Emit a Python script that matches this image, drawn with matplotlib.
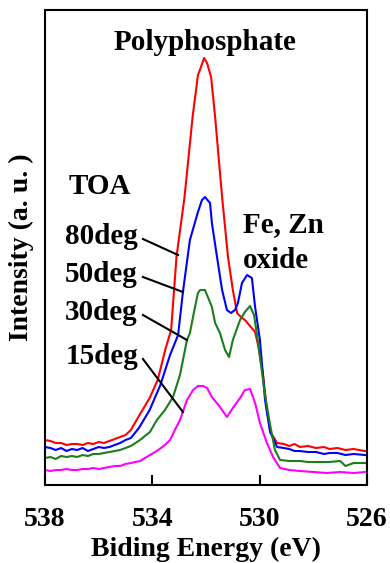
import matplotlib
matplotlib.use("Agg")
import matplotlib.pyplot as plt

plt.rcParams['font.family'] = ['Liberation Serif', 'DejaVu Serif']
plt.rcParams['font.weight'] = 'bold'

# Binding energy (eV) / intensity (a.u.)
red_E = [538.0, 537.8, 537.6, 537.4, 537.2, 537.0, 536.8, 536.6, 536.4, 536.2, 536.0, 535.8, 535.6,
         535.4, 535.2, 535.0, 534.8, 534.5, 534.1, 533.8, 533.5, 533.3, 533.1, 532.8, 532.5, 532.3,
         532.2, 532.07, 531.96, 531.81, 531.66, 531.4, 531.18, 531.0, 530.84, 530.7, 530.55, 530.36,
         530.17, 530.06, 529.88, 529.73, 529.6, 529.35, 529.1, 528.9, 528.7, 528.5, 528.2, 527.9,
         527.6, 527.4, 527.1, 526.8, 526.5, 526.3, 526.07]
red_I = [45, 44, 42, 42, 40, 41, 41, 40, 42, 41, 43, 42, 44,
         46, 48, 50, 55, 69, 87, 105, 137, 155, 228, 288, 368, 410,
         417, 427, 422, 408, 368, 288, 228, 195, 172, 168, 165, 159,
         153, 140, 112, 75, 53, 42, 41, 39, 41, 38, 39, 37,
         38, 36, 37, 35, 36, 35, 34]

blue_E = [538.0, 537.8, 537.6, 537.4, 537.2, 537.0, 536.8, 536.6, 536.4, 536.2, 536.0, 535.8, 535.6,
          535.4, 535.2, 535.0, 534.8, 534.5, 534.1, 533.7, 533.34, 533.04, 532.86, 532.6, 532.3,
          532.15, 532.04, 531.85, 531.78, 531.59, 531.4, 531.22, 531.07, 530.92, 530.81, 530.66,
          530.47, 530.29, 530.17, 529.99, 529.8, 529.61, 529.35, 529.1, 528.9, 528.7, 528.5, 528.2,
          527.9, 527.6, 527.4, 527.1, 526.8, 526.5, 526.07]
blue_I = [38, 37, 35, 37, 34, 36, 35, 37, 34, 36, 38, 37, 38,
          40, 42, 45, 47, 57, 75, 100, 130, 150, 193, 245, 273,
          285, 288, 282, 262, 228, 195, 175, 172, 175, 182, 202,
          210, 207, 178, 145, 85, 53, 38, 37, 36, 34, 34, 33,
          33, 31, 32, 32, 30, 31, 30]

green_E = [538.0, 537.8, 537.6, 537.4, 537.2, 537.0, 536.8, 536.6, 536.4, 536.2, 536.0, 535.8, 535.6,
           535.4, 535.2, 535.0, 534.8, 534.46, 534.09, 533.83, 533.53, 533.23, 532.97, 532.71, 532.6,
           532.41, 532.3, 532.22, 532.04, 531.93, 531.78, 531.66, 531.48, 531.29, 531.14, 531.0,
           530.73, 530.55, 530.36, 530.21, 530.1, 529.99, 529.8, 529.61, 529.43, 529.24, 528.9,
           528.5, 528.2, 527.8, 527.4, 527.0, 526.8, 526.5, 526.07]
green_I = [27, 28, 26, 29, 28, 29, 28, 30, 29, 31, 31, 32, 33,
           34, 35, 37, 39, 45, 53, 65, 75, 88, 110, 145, 152,
           178, 192, 195, 195, 188, 178, 162, 152, 135, 128, 145,
           165, 173, 179, 170, 150, 128, 90, 60, 35, 25, 24,
           24, 23, 23, 23, 24, 19, 22, 22]

mag_E = [538.0, 537.8, 537.6, 537.4, 537.2, 537.0, 536.8, 536.6, 536.4, 536.2, 536.0, 535.8, 535.6,
         535.4, 535.2, 535.0, 534.8, 534.46, 534.09, 533.83, 533.53, 533.34, 533.16, 532.97, 532.71,
         532.48, 532.3, 532.11, 531.96, 531.78, 531.48, 531.22, 531.0, 530.73, 530.55, 530.36,
         530.17, 529.99, 529.73, 529.5, 529.24, 528.9, 528.5, 528.0, 527.5, 527.0, 526.5, 526.07]
mag_I = [15, 14, 15, 15, 16, 15, 15, 16, 16, 17, 16, 17, 18,
         19, 19, 21, 22, 24, 30, 34, 40, 45, 55, 65, 85,
         95, 99, 99, 97, 88, 78, 68, 77, 87, 95, 96,
         82, 62, 42, 28, 17, 15, 14, 13, 12, 13, 12, 13]

series = [(red_E, red_I, '#ff0000'), (blue_E, blue_I, '#0000ff'),
          (green_E, green_I, '#1a7f1a'), (mag_E, mag_I, '#ff00ff')]

x_ticks = [538, 534, 530, 526]
toa_labels = ['80deg', '50deg', '30deg', '15deg']
toa_label_I = [248, 210, 172, 128]
leader_end = [(533.04, 230), (532.86, 193), (532.71, 145), (532.86, 73)]

fig = plt.figure(figsize=(3.9, 5.63), dpi=100)
ax = fig.add_axes([45/390, 78/563, 322/390, 475/563])

for E, I, c in series:
    ax.plot(E, I, color=c, lw=1.5)

ax.set_xlim(538, 526)
ax.set_ylim(0, 475)
ax.set_xticks(x_ticks)
ax.set_xticklabels([str(t) for t in x_ticks], fontsize=20, fontweight='bold')
ax.tick_params(axis='x', direction='in', length=7, width=1.5, pad=16)
ax.set_yticks([])
for s in ax.spines.values():
    s.set_linewidth(1.5)

ax.set_xlabel('Biding Energy (eV)', fontsize=20, fontweight='bold', labelpad=3)
ax.set_ylabel('Intensity (a. u. )', fontsize=20, fontweight='bold', labelpad=8)

ax.text(532.04, 442, 'Polyphosphate', fontsize=21, fontweight='bold', ha='center', va='center')
ax.text(537.14, 298, 'TOA', fontsize=21, fontweight='bold', ha='left', va='center')
for lab, yI, (ex, ey) in zip(toa_labels, toa_label_I, leader_end):
    ax.text(537.25, yI, lab, fontsize=21, fontweight='bold', ha='left', va='center')
    ax.plot([534.35, ex], [yI - 2, ey], color='black', lw=1.5)
ax.text(530.62, 260, 'Fe, Zn', fontsize=21, fontweight='bold', ha='left', va='center')
ax.text(530.62, 225, 'oxide', fontsize=21, fontweight='bold', ha='left', va='center')

fig.savefig('out.png', dpi=100)
